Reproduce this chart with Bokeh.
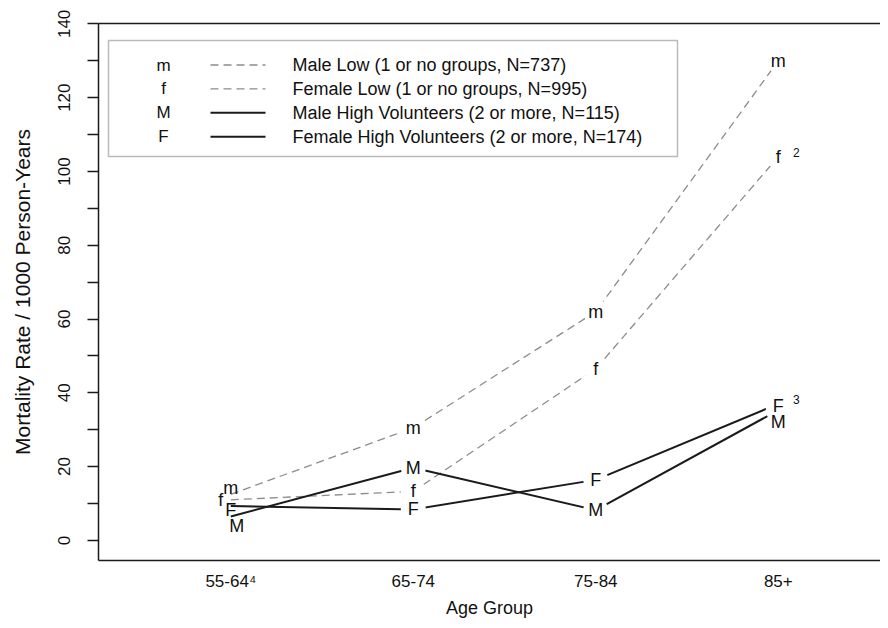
import numpy as np
from bokeh.plotting import figure
from bokeh.models import FixedTicker, BoxAnnotation, Label, Arrow, Range1d, LinearAxis
from bokeh.core.properties import value
from bokeh.embed import file_html
from bokeh.resources import INLINE

# ---- data -------------------------------------------------------------
age_groups = ["55-64", "65-74", "75-84", "85+"]
male_low = [12.5, 30.5, 62.0, 130.0]
female_low = [11.0, 13.3, 46.5, 104.0]
male_high = [6.5, 19.7, 8.2, 35.3]
female_high = [9.3, 8.4, 16.4, 37.0]

series_letters = ["m", "f", "M", "F"]
series_names = [
    "Male Low (1 or no groups, N=737)",
    "Female Low (1 or no groups, N=995)",
    "Male High Volunteers (2 or more, N=115)",
    "Female High Volunteers (2 or more, N=174)",
]
y_tick_values = [0, 20, 40, 60, 80, 100, 120, 140]
y_minor_values = [10, 30, 50, 70, 90, 110, 130]
x_tick_labels = ["55-64\u2074", "65-74", "75-84", "85+"]
y_title = "Mortality Rate / 1000 Person-Years"
x_title = "Age Group"
# footnote marks next to the last points: (series index, footnote)
point_footnotes = [(1, "2"), (3, "3")]

# ---- styles -------------------------------------------------------------
FONT = "Liberation Sans"
TXT = "#111111"
FRAME = "#1a1a1a"
series_vals = [male_low, female_low, male_high, female_high]
series_style = [
    dict(line_color="#8c8c8c", line_width=1.3, line_dash="8 5"),
    dict(line_color="#8c8c8c", line_width=1.3, line_dash="8 5"),
    dict(line_color="#1a1a1a", line_width=2.0, line_dash="solid"),
    dict(line_color="#1a1a1a", line_width=2.0, line_dash="solid"),
]
# pixel nudges for crowded point letters: (series, point) -> (dx, dy)
label_nudges = {(0, 0): (0, -6), (1, 0): (-10, 0), (3, 0): (0, 4),
                (2, 0): (6, 10), (2, 3): (0, 12), (3, 3): (0, 2)}

xs = np.arange(1, len(age_groups) + 1)

p = figure(width=880, height=620,
           x_range=Range1d(0.275, 4.560), y_range=Range1d(-5.45, 140.1),
           output_backend="svg", toolbar_location=None,
           min_border_left=98, min_border_right=0,
           min_border_top=23, min_border_bottom=56)
p.xgrid.visible = False
p.ygrid.visible = False
p.outline_line_color = None
p.background_fill_color = "white"
p.border_fill_color = "white"

# y axis (its line is the left side of the box)
ya = p.yaxis[0]
ya.ticker = FixedTicker(ticks=y_tick_values, minor_ticks=y_minor_values)
ya.axis_line_color = FRAME
ya.axis_line_width = 1.5
ya.major_tick_in = 0
ya.major_tick_out = 11
ya.minor_tick_in = 0
ya.minor_tick_out = 11
ya.major_tick_line_color = FRAME
ya.minor_tick_line_color = FRAME
ya.major_tick_line_width = 1.3
ya.minor_tick_line_width = 1.3
ya.major_label_orientation = "vertical"
ya.major_label_text_font = FONT
ya.major_label_text_font_size = "17px"
ya.major_label_text_color = TXT
ya.major_label_standoff = 17
ya.axis_label = y_title
ya.axis_label_text_font = FONT
ya.axis_label_text_font_size = "21px"
ya.axis_label_text_font_style = "normal"
ya.axis_label_text_color = TXT
ya.axis_label_standoff = 22

# x axis (its line is the bottom of the box)
xa = p.xaxis[0]
xa.ticker = FixedTicker(ticks=list(xs), minor_ticks=[])
xa.major_label_overrides = {int(x): lab for x, lab in zip(xs, x_tick_labels)}
xa.axis_line_color = FRAME
xa.axis_line_width = 1.5
xa.major_tick_in = 0
xa.major_tick_out = 0
xa.minor_tick_out = 0
xa.major_label_text_font = FONT
xa.major_label_text_font_size = "17px"
xa.major_label_text_color = TXT
xa.major_label_standoff = 11
xa.axis_label = x_title
xa.axis_label_text_font = FONT
xa.axis_label_text_font_size = "18px"
xa.axis_label_text_font_style = "normal"
xa.axis_label_text_color = TXT
xa.axis_label_standoff = 4

# top side of the box (no ticks, no labels)
top = LinearAxis(ticker=FixedTicker(ticks=[]), axis_line_color=FRAME,
                 axis_line_width=1.5, major_tick_line_color=None,
                 minor_tick_line_color=None, major_label_text_font_size="0px")
p.add_layout(top, "above")

# lines
for vals, st in zip(series_vals, series_style):
    p.line(xs, vals, **st)

# gaps around plotted letters (type="b" look), not at the crowded first group
for vals in series_vals:
    p.scatter(xs[1:], vals[1:], size=25, fill_color="white", line_color=None)

# letters at the points
for si, (vals, letter) in enumerate(zip(series_vals, series_letters)):
    dx = [label_nudges.get((si, i), (0, 0))[0] for i in range(len(xs))]
    dy = [label_nudges.get((si, i), (0, 0))[1] for i in range(len(xs))]
    p.text(xs, vals, text=[letter] * len(xs), text_align="center",
           text_baseline="middle", text_font=value(FONT),
           text_font_size="18px", text_color=TXT, x_offset=dx, y_offset=dy)

# footnote marks
for si, note in point_footnotes:
    p.text([xs[-1]], [series_vals[si][-1]], text=[note], text_align="center",
           text_baseline="bottom", text_font=value(FONT), text_font_size="12px",
           text_color=TXT, x_offset=18)

# ---- legend (drawn in screen units inside the frame) ---------------------
box = BoxAnnotation(left=10, right=579, top=520, bottom=404,
                    left_units="screen", right_units="screen",
                    top_units="screen", bottom_units="screen",
                    fill_color="white", fill_alpha=1.0,
                    line_color="#1a1a1a", line_width=1.5)
p.add_layout(box)
row_y0, row_step = 495.5, 23.9
for i, (letter, name, st) in enumerate(zip(series_letters, series_names, series_style)):
    yy = row_y0 - i * row_step
    p.add_layout(Label(x=65, y=yy, x_units="screen", y_units="screen", text=letter,
                       text_align="center", text_baseline="middle",
                       text_font=FONT, text_font_size="17px", text_color=TXT))
    p.add_layout(Arrow(end=None, x_start=112, y_start=yy, x_end=167, y_end=yy,
                       start_units="screen", end_units="screen", **st))
    p.add_layout(Label(x=194, y=yy, x_units="screen", y_units="screen", text=name,
                       text_align="left", text_baseline="middle",
                       text_font=FONT, text_font_size="18px", text_color=TXT))

open("out.html", "w").write(file_html(p, INLINE))
